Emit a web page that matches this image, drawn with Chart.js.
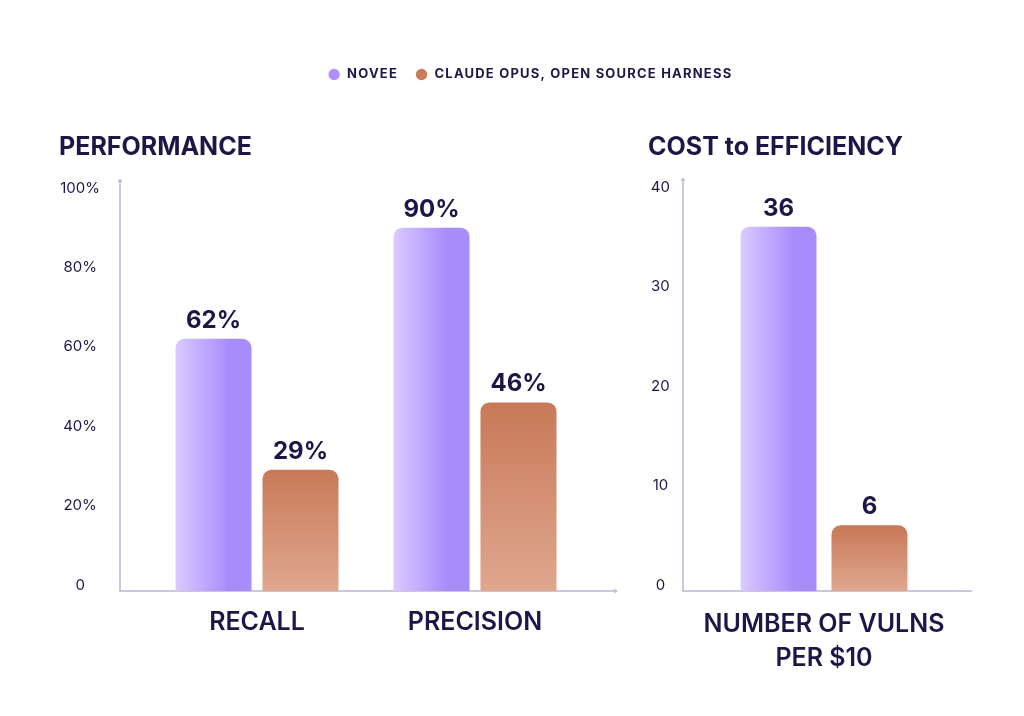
<!DOCTYPE html>
<html>
<head>
<meta charset="utf-8">
<script src="https://cdn.jsdelivr.net/npm/chart.js@4.4.1/dist/chart.umd.min.js"></script>
<style>
  html, body { margin: 0; padding: 0; background: #ffffff; }
  #wrap { position: relative; width: 1024px; height: 716px; }
  #wrap canvas { position: absolute; left: 0; top: 0; }
</style>
</head>
<body>
<div id="wrap">
  <canvas id="perfChart" width="1024" height="716"></canvas>
  <canvas id="costChart" width="1024" height="716"></canvas>
</div>
<script>
// ---- data ----
const seriesNames = ['NOVEE', 'CLAUDE OPUS, OPEN SOURCE HARNESS'];

const perfCategories = ['RECALL', 'PRECISION'];
const perfNovee = [62, 90];
const perfClaude = [29, 46];
const perfMax = 100;
const perfStep = 20;

const costCategories = [['NUMBER OF VULNS', 'PER $10']];
const costNovee = [36];
const costClaude = [6];
const costMax = 40;
const costStep = 10;

// ---- styling ----
const TEXT = '#1d1748';
const AXIS = '#b9b5cf';
const NOVEE_COLOR = '#a98cfc';
const NOVEE_LIGHT = '#d9cbff';
const CLAUDE_TOP = '#c87958';
const CLAUDE_BOTTOM = '#dfa78f';
const SERIES_COLORS = ['#ae8ffd', '#c97b5a'];

Chart.defaults.font.family = 'Inter, "Noto Sans", sans-serif';
Chart.defaults.color = TEXT;

// legend text in the picture is letter-spaced; canvas can do that
const LegendEl = Chart.Legend && Chart.Legend._element;
if (LegendEl) {
  const origFit = LegendEl.prototype.fit;
  const origDraw = LegendEl.prototype.draw;
  LegendEl.prototype.fit = function () {
    const ctx = this.ctx;
    ctx.save(); ctx.letterSpacing = '1.2px';
    origFit.apply(this, arguments);
    ctx.restore();
  };
  LegendEl.prototype.draw = function () {
    const ctx = this.ctx;
    ctx.save(); ctx.letterSpacing = '1.2px';
    origDraw.apply(this, arguments);
    ctx.restore();
  };
}

// horizontal light->purple fill across each novee bar
function noveeFill(c) {
  const chart = c.chart;
  const xs = chart.scales.x;
  if (!chart.chartArea || !xs || c.dataIndex === undefined) return NOVEE_COLOR;
  const catW = xs.width / chart.data.labels.length;
  const slot = catW * c.dataset.categoryPercentage / 2;
  const center = xs.getPixelForValue(c.dataIndex) - slot / 2;
  const half = slot * c.dataset.barPercentage / 2;
  const g = chart.ctx.createLinearGradient(center - half, 0, center + half, 0);
  g.addColorStop(0, NOVEE_LIGHT);
  g.addColorStop(0.7, NOVEE_COLOR);
  g.addColorStop(1, NOVEE_COLOR);
  return g;
}

// vertical darker->lighter fill on each claude bar
function claudeFill(c) {
  const chart = c.chart;
  const ys = chart.scales.y;
  if (!chart.chartArea || !ys || c.dataIndex === undefined) return CLAUDE_TOP;
  const top = ys.getPixelForValue(c.dataset.data[c.dataIndex]);
  const bottom = ys.getPixelForValue(c.dataset.base);
  const g = chart.ctx.createLinearGradient(0, top, 0, bottom);
  g.addColorStop(0, CLAUDE_TOP);
  g.addColorStop(1, CLAUDE_BOTTOM);
  return g;
}

// axis lines sit a little outside the plot area, with small arrow tips
const axisLines = {
  id: 'axisLines',
  beforeDatasetsDraw(chart, args, o) {
    const { ctx, chartArea: a } = chart;
    const x0 = a.left + o.left, x1 = a.right + o.right;
    const y0 = a.top + o.top, y1 = a.bottom + o.bottom;
    ctx.save();
    ctx.strokeStyle = AXIS;
    ctx.lineWidth = 1.5;
    ctx.beginPath();
    ctx.moveTo(x0, y0);
    ctx.lineTo(x0, y1);
    ctx.lineTo(x1, y1);
    ctx.stroke();
    ctx.lineWidth = 1;
    ctx.beginPath();
    ctx.moveTo(x0 - 2, y0 + 3); ctx.lineTo(x0, y0); ctx.lineTo(x0 + 2, y0 + 3);
    if (o.arrowRight) {
      ctx.moveTo(x1 - 3, y1 - 2); ctx.lineTo(x1, y1); ctx.lineTo(x1 - 3, y1 + 2);
    }
    ctx.stroke();
    ctx.restore();
  }
};

// value text above each bar
const barValues = {
  id: 'barValues',
  afterDatasetsDraw(chart, args, o) {
    const { ctx } = chart;
    ctx.save();
    ctx.font = '700 24px Inter, "Noto Sans", sans-serif';
    ctx.fillStyle = TEXT;
    ctx.textAlign = 'center';
    ctx.textBaseline = 'alphabetic';
    chart.data.datasets.forEach((ds, i) => {
      chart.getDatasetMeta(i).data.forEach((bar, j) => {
        ctx.fillText(ds.data[j] + o.suffix, bar.x, bar.y - 11);
      });
    });
    ctx.restore();
  }
};

function legendLabels(chart) {
  const items = Chart.defaults.plugins.legend.labels.generateLabels(chart);
  items.forEach((it, i) => {
    it.fillStyle = SERIES_COLORS[i];
    it.strokeStyle = SERIES_COLORS[i];
    it.lineWidth = 0;
  });
  return items;
}

const titleFont = { size: 25, weight: '700' };
const catFont = { size: 25, weight: '600', lineHeight: 1.35 };
const tickFont = { size: 15, weight: '400' };

function makeDatasets(novee, claude, base, catPct, barPct) {
  return [
    { label: seriesNames[0], data: novee, backgroundColor: noveeFill, base: base,
      categoryPercentage: catPct, barPercentage: barPct, borderRadius: 9, borderSkipped: 'start', clip: false },
    { label: seriesNames[1], data: claude, backgroundColor: claudeFill, base: base,
      categoryPercentage: catPct, barPercentage: barPct, borderRadius: 9, borderSkipped: 'start', clip: false }
  ];
}

// ---- left panel: performance ----
new Chart(document.getElementById('perfChart'), {
  type: 'bar',
  data: {
    labels: perfCategories,
    datasets: makeDatasets(perfNovee, perfClaude, -1.5, 0.798, 0.874)
  },
  options: {
    responsive: false,
    animation: false,
    layout: { padding: { top: 51, left: 59, right: 23, bottom: 0 } },
    plugins: {
      legend: {
        position: 'top',
        weight: 3000,
        labels: {
          usePointStyle: true, pointStyle: 'circle',
          boxWidth: 13, boxHeight: 8, padding: 17,
          font: { size: 13, weight: '700' }, color: TEXT,
          generateLabels: legendLabels
        }
      },
      title: {
        display: true, text: 'PERFORMANCE', align: 'start',
        font: titleFont, color: TEXT, padding: { top: 41, bottom: 26 }
      },
      tooltip: { enabled: false },
      axisLines: { left: -28, right: 33, top: -9, bottom: 6, arrowRight: true },
      barValues: { suffix: '%' }
    },
    scales: {
      x: {
        grid: { display: false, drawTicks: false },
        border: { display: false },
        ticks: { font: catFont, color: TEXT, padding: 21, maxRotation: 0 },
        afterFit(s) { s.height = 131; }
      },
      y: {
        min: 0, max: perfMax,
        grid: { display: false, drawTicks: false },
        border: { display: false },
        ticks: {
          stepSize: perfStep, font: tickFont, color: TEXT, padding: 48, crossAlign: 'center',
          callback: v => (v === 0 ? '0' : v + '%')
        },
        afterFit(s) { s.width = 89; }
      },
      pad: {
        position: 'right',
        grid: { display: false, drawTicks: false },
        border: { display: false },
        ticks: { display: false },
        afterFit(s) { s.width = 417; }
      }
    }
  },
  plugins: [axisLines, barValues]
});

// ---- right panel: cost to efficiency ----
new Chart(document.getElementById('costChart'), {
  type: 'bar',
  data: {
    labels: costCategories,
    datasets: makeDatasets(costNovee, costClaude, -0.6, 0.645, 0.835)
  },
  options: {
    responsive: false,
    animation: false,
    layout: { padding: { top: 91, left: 648, right: 59, bottom: 0 } },
    plugins: {
      legend: { display: false },
      title: {
        display: true, text: 'COST to EFFICIENCY', align: 'start',
        font: titleFont, color: TEXT, padding: { top: 41, bottom: 25 }
      },
      tooltip: { enabled: false },
      axisLines: { left: 0, right: 7, top: -9, bottom: 6, arrowRight: false },
      barValues: { suffix: '' }
    },
    scales: {
      x: {
        grid: { display: false, drawTicks: false },
        border: { display: false },
        ticks: { font: catFont, color: TEXT, padding: 23, maxRotation: 0 },
        afterFit(s) { s.height = 131; }
      },
      y: {
        min: 0, max: costMax,
        grid: { display: false, drawTicks: false },
        border: { display: false },
        ticks: { stepSize: costStep, font: tickFont, color: TEXT, padding: 13, crossAlign: 'center' },
        afterFit(s) { s.width = 35; }
      }
    }
  },
  plugins: [axisLines, barValues]
});
</script>
</body>
</html>
